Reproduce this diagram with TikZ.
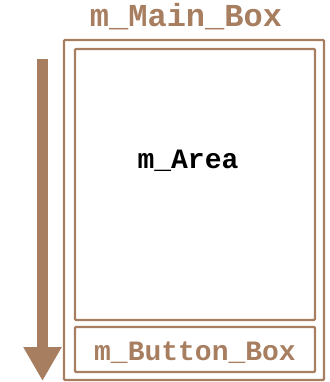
\documentclass[tikz,border=0pt]{standalone}
\usepackage{fontspec}
\setmonofont{Liberation Mono}
\usepackage{tikz}
\usetikzlibrary{arrows.meta, positioning}
\definecolor{cBrown}{RGB}{168,126,96}
\tikzset{
	box/.style     ={rectangle, draw=cBrown, line width=2.2pt, rounded corners=1pt, inner sep=0pt},
	lbl/.style     ={font=\ttfamily\bfseries\fontsize{28}{30}\selectfont, inner sep=0pt},
	flow/.style    ={-{Triangle[length=34pt, width=36pt]}, line width=11pt, cBrown},
}

\begin{document}
\begin{tikzpicture}[x=1pt, y=-1pt]
	\useasboundingbox (0,0) rectangle (329,382);
	% outer frame and its two children
	\node[box, minimum width=260pt, minimum height=340pt] (mainbox) at (194,210) {};
	\node[box, minimum width=240pt, minimum height=271pt] (area) at (195,184.5) {};
	\node[box, minimum width=240pt, minimum height=45pt] (buttonbox) at (195,349.5) {};
	% labels
	\node[lbl, text=cBrown, font=\ttfamily\bfseries\fontsize{32}{34}\selectfont] (mainlbl) at (186,17) {m\_Main\_Box};
	\node[lbl] (arealbl) at (188,161) {m\_Area};
	\node[lbl, text=cBrown] (buttonlbl) at (195,353) {m\_Button\_Box};
	% top-down order arrow
	\coordinate (top) at (42.5,59);
	\coordinate (bottom) at (42.5,381);
	\draw[flow] (top) -- (bottom);
\end{tikzpicture}
\end{document}
